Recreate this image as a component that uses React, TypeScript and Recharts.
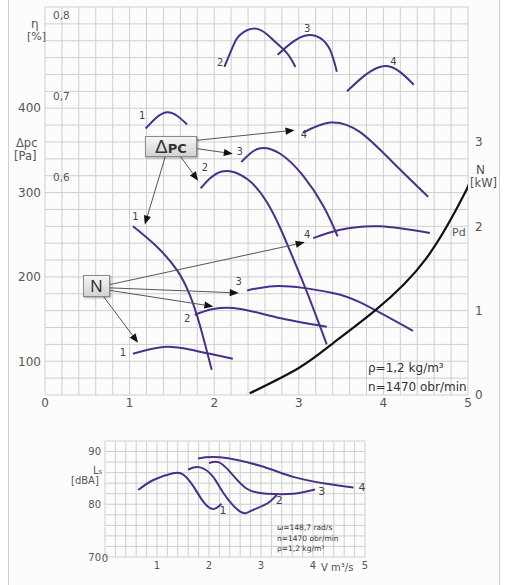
import React from 'react';
import {
  ComposedChart,
  Line,
  XAxis,
  YAxis,
  CartesianGrid,
  ReferenceLine,
  ReferenceDot,
} from 'recharts';

// ---------- shared ----------
const xGridTicks = [0, 0.2, 0.4, 0.6, 0.8, 1, 1.2, 1.4, 1.6, 1.8, 2, 2.2, 2.4, 2.6, 2.8, 3, 3.2, 3.4, 3.6, 3.8, 4, 4.2, 4.4, 4.6, 4.8, 5];
const xLabelTicks = [0, 1, 2, 3, 4, 5];

// ---------- main chart ----------
const paGridTicks = [60, 80, 100, 120, 140, 160, 180, 200, 220, 240, 260, 280, 300, 320, 340, 360, 380, 400, 420, 440, 460, 480, 500, 520];
const paLabelTicks = [100, 200, 300, 400];
const nTicks = [0, 1, 2, 3];
const etaTicks = [0.6, 0.7, 0.8];

// Δpc [Pa] vs V
const pressure1 = [
  { x: 1.04, y: 260 }, { x: 1.32, y: 236 }, { x: 1.56, y: 208 }, { x: 1.71, y: 179 }, { x: 1.83, y: 143 }, { x: 1.97, y: 90 },
];
const pressure2 = [
  { x: 1.84, y: 305 }, { x: 2.09, y: 325 }, { x: 2.39, y: 316 }, { x: 2.62, y: 289 }, { x: 2.78, y: 258 }, { x: 2.9, y: 230 }, { x: 3.1, y: 181 }, { x: 3.33, y: 120 },
];
const pressure3 = [
  { x: 2.32, y: 336 }, { x: 2.52, y: 352 }, { x: 2.78, y: 346 }, { x: 3.05, y: 320 }, { x: 3.29, y: 284 }, { x: 3.46, y: 248 },
];
const pressure4 = [
  { x: 3.05, y: 371 }, { x: 3.37, y: 383 }, { x: 3.72, y: 372 }, { x: 4.11, y: 336 }, { x: 4.53, y: 295 },
];
// Pd [Pa]
const dynamicPressure = [
  { x: 2.42, y: 62 }, { x: 3.0, y: 92 }, { x: 3.4, y: 121 }, { x: 3.9, y: 160 }, { x: 4.5, y: 221 }, { x: 4.95, y: 297 }, { x: 5.0, y: 308 },
];
// N [kW]
const power1 = [
  { x: 1.04, y: 0.49 }, { x: 1.4, y: 0.57 }, { x: 1.71, y: 0.54 }, { x: 1.99, y: 0.48 }, { x: 2.22, y: 0.43 },
];
const power2 = [
  { x: 1.77, y: 0.95 }, { x: 1.99, y: 1.02 }, { x: 2.31, y: 1.02 }, { x: 2.74, y: 0.92 }, { x: 3.33, y: 0.81 },
];
const power3 = [
  { x: 2.39, y: 1.24 }, { x: 2.7, y: 1.29 }, { x: 3.05, y: 1.27 }, { x: 3.4, y: 1.21 }, { x: 3.72, y: 1.1 }, { x: 4.35, y: 0.76 },
];
const power4 = [
  { x: 3.17, y: 1.86 }, { x: 3.49, y: 1.96 }, { x: 3.96, y: 2.0 }, { x: 4.55, y: 1.92 },
];
// η
const eff1 = [
  { x: 1.19, y: 0.66 }, { x: 1.44, y: 0.68 }, { x: 1.68, y: 0.665 },
];
const eff2 = [
  { x: 2.12, y: 0.736 }, { x: 2.22, y: 0.761 }, { x: 2.31, y: 0.776 }, { x: 2.51, y: 0.783 }, { x: 2.7, y: 0.769 }, { x: 2.86, y: 0.753 }, { x: 2.96, y: 0.736 },
];
const eff3 = [
  { x: 2.75, y: 0.751 }, { x: 2.93, y: 0.767 }, { x: 3.1, y: 0.775 }, { x: 3.25, y: 0.772 }, { x: 3.37, y: 0.757 }, { x: 3.45, y: 0.73 },
];
const eff4 = [
  { x: 3.57, y: 0.706 }, { x: 4.0, y: 0.737 }, { x: 4.36, y: 0.714 },
];

const pressureLabels = [
  { x: 1.07, y: 272, t: '1' }, { x: 1.89, y: 330, t: '2' }, { x: 2.3, y: 349, t: '3' }, { x: 3.06, y: 369, t: '4' },
];
const powerLabels = [
  { x: 0.92, y: 0.51, t: '1' }, { x: 1.68, y: 0.905, t: '2' }, { x: 2.29, y: 1.345, t: '3' }, { x: 3.1, y: 1.905, t: '4' },
];
const etaLabels = [
  { x: 1.15, y: 0.6765, t: '1' }, { x: 2.07, y: 0.741, t: '2' }, { x: 3.1, y: 0.784, t: '3' }, { x: 4.12, y: 0.743, t: '4' },
];

const dpcArrows = [
  { from: { x: 1.42, y: 342 }, to: { x: 1.18, y: 262 } },
  { from: { x: 1.6, y: 343 }, to: { x: 1.81, y: 314 } },
  { from: { x: 1.8, y: 352 }, to: { x: 2.22, y: 346 } },
  { from: { x: 1.8, y: 362 }, to: { x: 2.95, y: 374 } },
];
const nArrows = [
  { from: { x: 0.69, y: 1.17 }, to: { x: 1.1, y: 0.62 } },
  { from: { x: 0.77, y: 1.24 }, to: { x: 1.99, y: 1.05 } },
  { from: { x: 0.77, y: 1.27 }, to: { x: 2.29, y: 1.21 } },
  { from: { x: 0.77, y: 1.31 }, to: { x: 3.07, y: 1.81 } },
];

// ---------- noise chart ----------
const dbGridTicks = [70, 72, 74, 76, 78, 80, 82, 84, 86, 88, 90, 92];
const dbLabelTicks = [70, 80, 90];
const noise1 = [
  { x: 0.64, y: 82.7 }, { x: 0.93, y: 84.6 }, { x: 1.31, y: 85.9 }, { x: 1.51, y: 85.6 }, { x: 1.7, y: 83.4 }, { x: 1.89, y: 80.5 }, { x: 2.08, y: 79.1 }, { x: 2.24, y: 80.1 },
];
const noise2 = [
  { x: 1.6, y: 86.6 }, { x: 1.83, y: 87.0 }, { x: 2.08, y: 85.2 }, { x: 2.28, y: 82.1 }, { x: 2.6, y: 78.6 }, { x: 2.82, y: 78.8 }, { x: 3.11, y: 80.1 }, { x: 3.3, y: 81.8 },
];
const noise3 = [
  { x: 2.0, y: 87.8 }, { x: 2.18, y: 88.0 }, { x: 2.4, y: 86.2 }, { x: 2.72, y: 83.0 }, { x: 3.11, y: 82.0 }, { x: 3.62, y: 82.0 }, { x: 4.04, y: 82.8 },
];
const noise4 = [
  { x: 1.79, y: 88.7 }, { x: 2.21, y: 88.9 }, { x: 2.98, y: 87.3 }, { x: 3.62, y: 85.2 }, { x: 4.26, y: 83.9 }, { x: 4.78, y: 83.2 },
];
const noiseLabels = [
  { x: 2.27, y: 78.9, t: '1' }, { x: 3.35, y: 80.8, t: '2' }, { x: 4.17, y: 82.5, t: '3' }, { x: 4.94, y: 83.3, t: '4' },
];

const PURPLE = '#4b2f8c';
const GRID = '#cfcfcf';
const TEXT = '#555';
const FONT = '"DejaVu Sans", "Liberation Sans", sans-serif';

const Arrow = (props: any) => {
  const { x1, y1, x2, y2 } = props;
  const dx = x2 - x1;
  const dy = y2 - y1;
  const len = Math.hypot(dx, dy) || 1;
  const ux = dx / len;
  const uy = dy / len;
  const L = 9;
  const W = 3.6;
  const bx = x2 - ux * L;
  const by = y2 - uy * L;
  const pts = `${x2},${y2} ${bx - uy * W},${by + ux * W} ${bx + uy * W},${by - ux * W}`;
  return (
    <g>
      <line x1={x1} y1={y1} x2={bx} y2={by} stroke="#555" strokeWidth={1} />
      <polygon points={pts} fill="#111" />
    </g>
  );
};

const fmtX = (v: number) => (xLabelTicks.includes(v) ? String(v) : '');
const fmtPa = (v: number) => (paLabelTicks.includes(v) ? String(v) : '');
const fmtEta = (v: number) => v.toFixed(1).replace('.', ',');
const fmtDb = (v: number) => (dbLabelTicks.includes(v) ? String(v) : '');

const NoiseXTick = (props: any) => {
  const { x, y, payload } = props;
  const label = fmtX(payload.value);
  if (!label) return null;
  return (
    <text x={x} y={payload.value === 0 ? y - 7 : y} dy="0.71em" textAnchor="middle" fill={TEXT} fontSize={10}>
      {label}
    </text>
  );
};

const abs = (left: number, top: number, size: number, extra: React.CSSProperties = {}): React.CSSProperties => ({
  position: 'absolute',
  left,
  top,
  fontSize: size,
  lineHeight: 1,
  color: TEXT,
  whiteSpace: 'nowrap',
  ...extra,
});

export default function App() {
  const lineProps = {
    type: 'natural' as const,
    dataKey: 'y',
    stroke: PURPLE,
    strokeWidth: 2,
    dot: false,
    isAnimationActive: false,
    activeDot: false,
  };
  return (
    <div style={{ position: 'absolute', left: 0, top: 0, width: 516, height: 585, background: '#fff', fontFamily: FONT, overflow: 'hidden' }}>
      <div style={{ position: 'absolute', left: 8, top: 0, width: 490, height: 585, borderLeft: '1px solid #cfcfcf', borderRight: '1px solid #cfcfcf', background: '#fcfcfc' }} />

      <div style={{ position: 'absolute', left: 0, top: 0 }}>
        <ComposedChart width={516} height={420} margin={{ top: 7, right: 0, bottom: 0, left: 0 }}>
          <CartesianGrid stroke={GRID} yAxisId="pa" xAxisId={0} />
          <XAxis
            xAxisId={0}
            type="number"
            dataKey="x"
            domain={[0, 5]}
            ticks={xGridTicks}
            interval={0}
            tickFormatter={fmtX}
            allowDataOverflow
            axisLine={false}
            tickLine={false}
            tickSize={2}
            tickMargin={1}
            height={25}
            tick={{ fill: TEXT, fontSize: 12 }}
          />
          <YAxis
            yAxisId="pa"
            type="number"
            domain={[60, 520]}
            ticks={paGridTicks}
            interval={0}
            tickFormatter={fmtPa}
            allowDataOverflow
            width={45}
            axisLine={false}
            tickLine={false}
            tickSize={3}
            tickMargin={1}
            tick={{ fill: TEXT, fontSize: 12 }}
          />
          <YAxis
            yAxisId="eta"
            type="number"
            domain={[0.331, 0.81]}
            ticks={etaTicks}
            interval={0}
            tickFormatter={fmtEta}
            allowDataOverflow
            mirror
            width={30}
            axisLine={false}
            tickLine={false}
            tickSize={6}
            tickMargin={2}
            tick={{ fill: TEXT, fontSize: 10.5 }}
          />
          <YAxis
            yAxisId="n"
            orientation="right"
            type="number"
            domain={[0, 4.6]}
            ticks={nTicks}
            interval={0}
            allowDataOverflow
            width={48}
            axisLine={false}
            tickLine={false}
            tickSize={5}
            tickMargin={2}
            tick={{ fill: TEXT, fontSize: 12 }}
          />

          <Line {...lineProps} yAxisId="eta" data={eff1} name="eta1" />
          <Line {...lineProps} yAxisId="eta" data={eff2} name="eta2" />
          <Line {...lineProps} yAxisId="eta" data={eff3} name="eta3" />
          <Line {...lineProps} yAxisId="eta" data={eff4} name="eta4" />

          <Line {...lineProps} yAxisId="pa" data={pressure1} name="dpc1" />
          <Line {...lineProps} yAxisId="pa" data={pressure2} name="dpc2" />
          <Line {...lineProps} yAxisId="pa" data={pressure3} name="dpc3" />
          <Line {...lineProps} yAxisId="pa" data={pressure4} name="dpc4" />

          <Line {...lineProps} yAxisId="n" data={power1} name="n1" />
          <Line {...lineProps} yAxisId="n" data={power2} name="n2" />
          <Line {...lineProps} yAxisId="n" data={power3} name="n3" />
          <Line {...lineProps} yAxisId="n" data={power4} name="n4" />

          <Line {...lineProps} yAxisId="pa" data={dynamicPressure} name="pd" stroke="#111" strokeWidth={2.2} />

          {dpcArrows.map((a, i) => (
            <ReferenceLine key={'da' + i} yAxisId="pa" segment={[a.from, a.to]} shape={Arrow} ifOverflow="visible" />
          ))}
          {nArrows.map((a, i) => (
            <ReferenceLine key={'na' + i} yAxisId="n" segment={[a.from, a.to]} shape={Arrow} ifOverflow="visible" />
          ))}

          {pressureLabels.map((l, i) => (
            <ReferenceDot key={'pl' + i} yAxisId="pa" x={l.x} y={l.y} r={0} fill="none" stroke="none"
              label={{ value: l.t, position: 'center', fill: '#444', fontSize: 10 }} />
          ))}
          {powerLabels.map((l, i) => (
            <ReferenceDot key={'nl' + i} yAxisId="n" x={l.x} y={l.y} r={0} fill="none" stroke="none"
              label={{ value: l.t, position: 'center', fill: '#444', fontSize: 10 }} />
          ))}
          {etaLabels.map((l, i) => (
            <ReferenceDot key={'el' + i} yAxisId="eta" x={l.x} y={l.y} r={0} fill="none" stroke="none"
              label={{ value: l.t, position: 'center', fill: '#444', fontSize: 10 }} />
          ))}
        </ComposedChart>
      </div>

      <div style={{ position: 'absolute', left: 0, top: 430 }}>
        <ComposedChart width={516} height={150} margin={{ top: 11, right: 151, bottom: 0, left: 0 }}>
          <CartesianGrid stroke={GRID} yAxisId="db" xAxisId={0} />
          <XAxis
            xAxisId={0}
            type="number"
            dataKey="x"
            domain={[0, 5]}
            ticks={xGridTicks}
            interval={0}
            allowDataOverflow
            axisLine={false}
            tickLine={false}
            tickSize={3}
            tickMargin={2}
            height={23}
            tick={NoiseXTick}
          />
          <YAxis
            yAxisId="db"
            type="number"
            domain={[70, 92]}
            ticks={dbGridTicks}
            interval={0}
            tickFormatter={fmtDb}
            allowDataOverflow
            width={105}
            axisLine={false}
            tickLine={false}
            tickSize={2}
            tickMargin={2}
            tick={{ fill: TEXT, fontSize: 10 }}
          />
          <Line {...lineProps} yAxisId="db" data={noise1} name="ls1" />
          <Line {...lineProps} yAxisId="db" data={noise2} name="ls2" />
          <Line {...lineProps} yAxisId="db" data={noise3} name="ls3" />
          <Line {...lineProps} yAxisId="db" data={noise4} name="ls4" />
          {noiseLabels.map((l, i) => (
            <ReferenceDot key={'sl' + i} yAxisId="db" x={l.x} y={l.y} r={0} fill="none" stroke="none" ifOverflow="visible"
              label={{ value: l.t, position: 'center', fill: '#444', fontSize: 11 }} />
          ))}
        </ComposedChart>
      </div>

      {/* axis titles and notes */}
      <div style={abs(31, 18, 12)}>η</div>
      <div style={abs(27, 31, 11)}>[%]</div>
      <div style={abs(16, 138, 11.5)}>Δpc</div>
      <div style={abs(14, 151, 11.5)}>[Pa]</div>
      <div style={abs(476, 164, 12)}>N</div>
      <div style={abs(470, 178, 11.5)}>[kW]</div>
      <div style={abs(452, 227, 11)}>Pd</div>
      <div style={abs(368, 362, 12, { color: '#333' })}>ρ=1,2 kg/m³</div>
      <div style={abs(368, 381, 12, { color: '#333' })}>n=1470 obr/min</div>

      <div style={abs(93, 466, 10)}>L<span style={{ fontSize: 7 }}>s</span></div>
      <div style={abs(71, 476, 10)}>[dBA]</div>
      <div style={abs(277, 524, 7.5, { color: '#333' })}>ω=148,7 rad/s</div>
      <div style={abs(277, 535, 7.5, { color: '#333' })}>n=1470 obr/min</div>
      <div style={abs(277, 545, 7.5, { color: '#333' })}>ρ=1,2 kg/m³</div>
      <div style={abs(321, 563, 10)}>V m³/s</div>

      {/* annotation boxes */}
      <div
        style={{
          position: 'absolute', left: 145, top: 136, width: 50, height: 19,
          border: '1px solid #8a8a8a', background: 'linear-gradient(#f6f6f6, #d2d2d2)',
          boxShadow: '1px 1px 2px rgba(0,0,0,0.35)', display: 'flex', alignItems: 'center', justifyContent: 'center',
          color: '#333', lineHeight: 1,
        }}
      >
        <span style={{ fontSize: 19, fontFamily: '"Liberation Sans", sans-serif' }}>Δ</span>
        <span style={{ fontSize: 13, fontWeight: 'bold', marginTop: 3 }}>PC</span>
      </div>
      <div
        style={{
          position: 'absolute', left: 83, top: 275, width: 25, height: 20,
          border: '1px solid #8a8a8a', background: 'linear-gradient(#f6f6f6, #d2d2d2)',
          boxShadow: '1px 1px 2px rgba(0,0,0,0.35)', display: 'flex', alignItems: 'center', justifyContent: 'center',
          color: '#333', fontSize: 17, lineHeight: 1, fontFamily: '"Liberation Sans", sans-serif',
        }}
      >
        N
      </div>
    </div>
  );
}
